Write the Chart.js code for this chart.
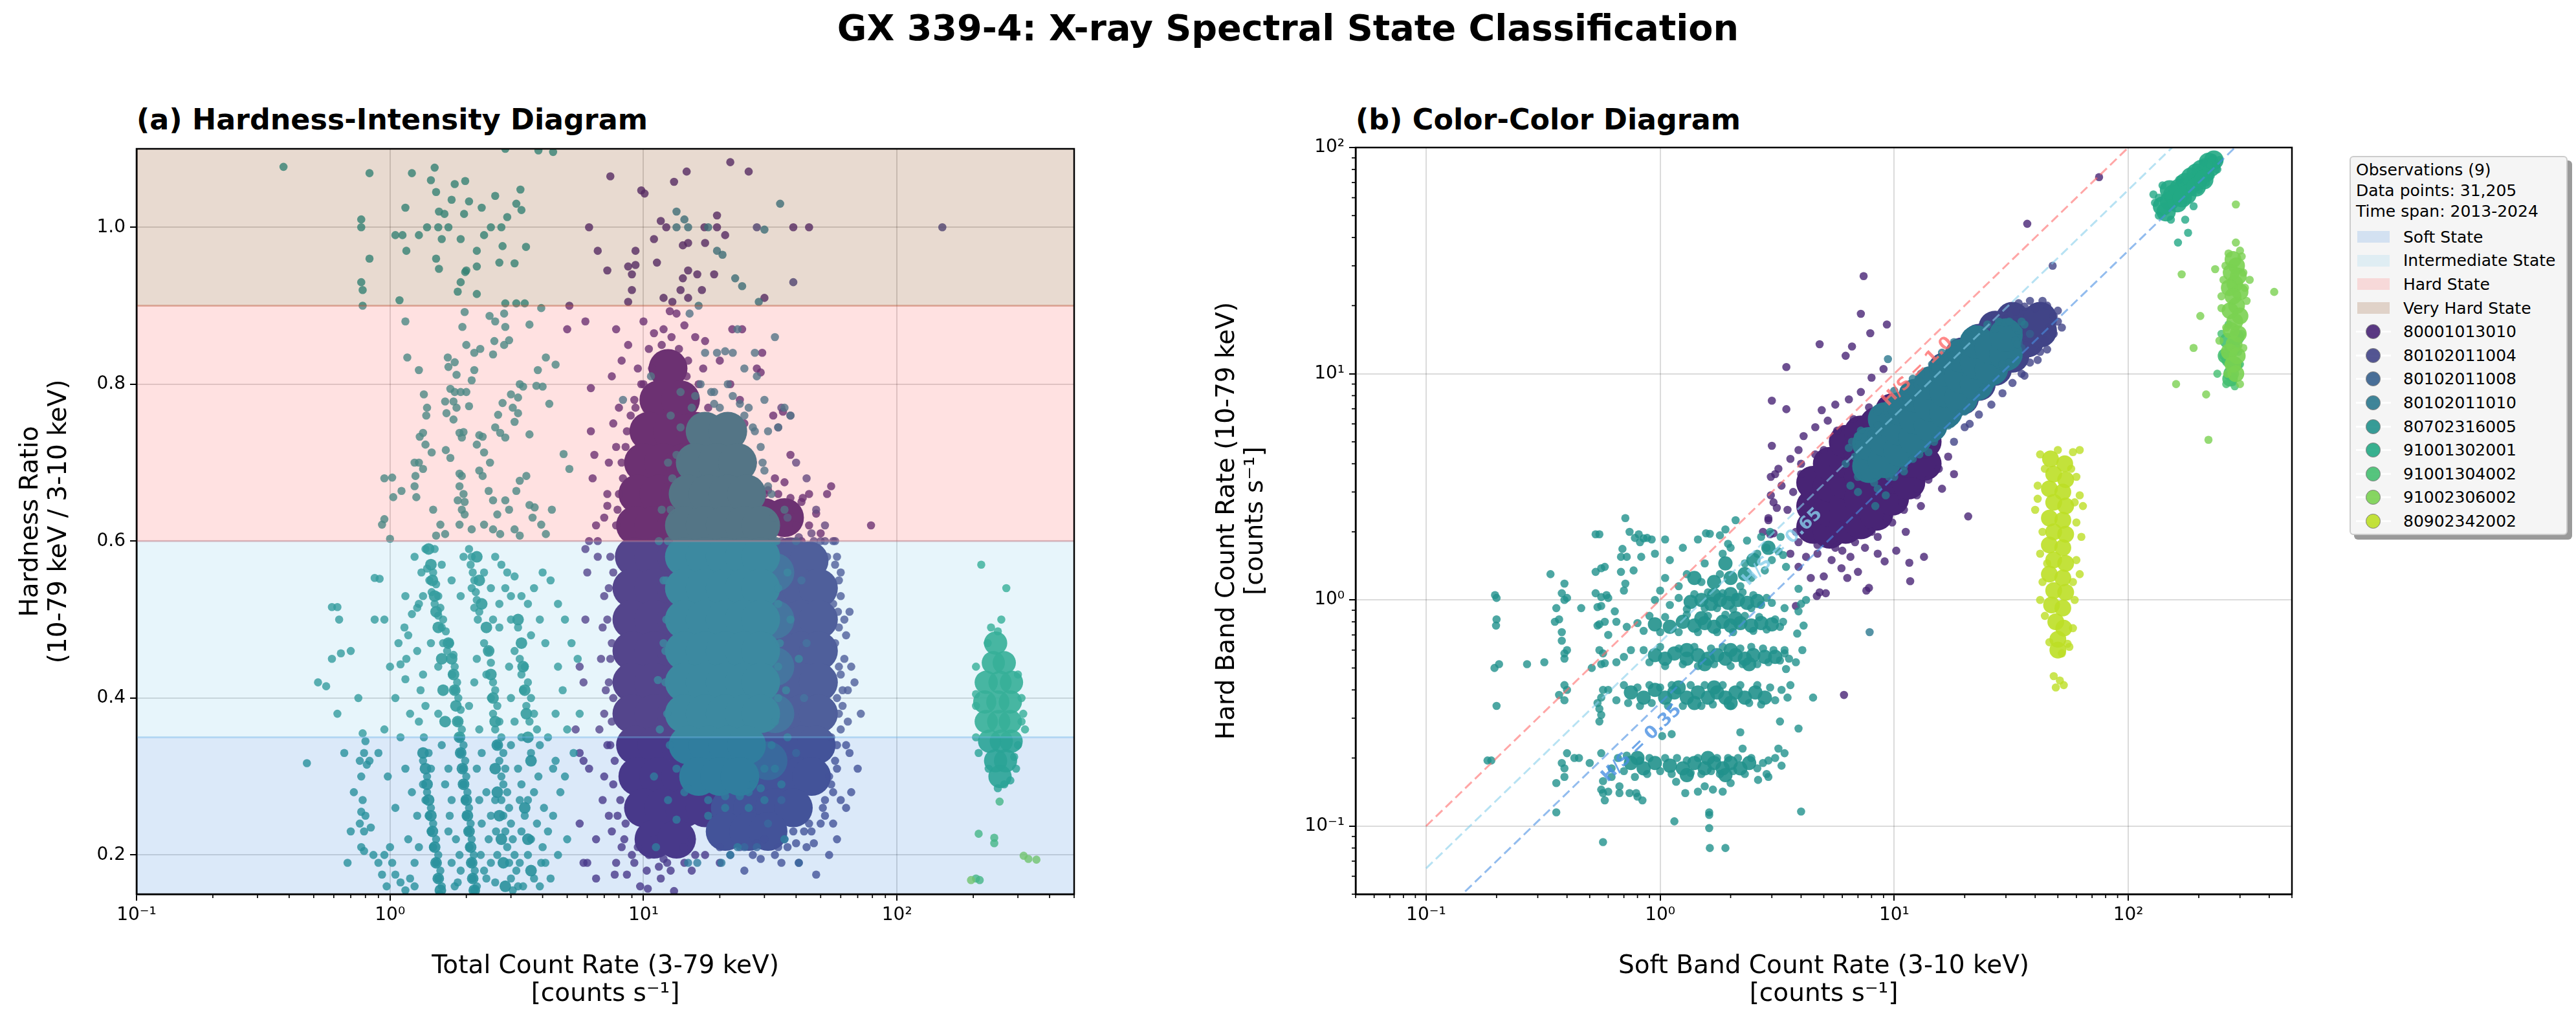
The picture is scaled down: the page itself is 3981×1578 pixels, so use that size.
<!DOCTYPE html>
<html>
<head>
<meta charset="utf-8">
<script src="https://cdn.jsdelivr.net/npm/chart.js@4.4.1/dist/chart.umd.min.js"></script>
<style>
  html, body { margin: 0; padding: 0; background: #fff; }
  body { width: 3981px; height: 1578px; position: relative; overflow: hidden; font-family: "DejaVu Sans", sans-serif; color: #000; }
  #suptitle { position: absolute; left: 0; top: 15px; width: 3981px; text-align: center; font-weight: bold; font-size: 55.6px; line-height: 55.6px; }
  .subtitle { position: absolute; top: 163px; font-weight: bold; font-size: 44.4px; line-height: 44.4px; white-space: nowrap; }
  canvas { position: absolute; }
  #legend { position: absolute; left: 3631px; top: 241px; width: 337px; height: 586px; box-sizing: border-box;
            background: #f5f5f5; border: 2px solid #cccccc; border-radius: 6px; box-shadow: 7px 7px 0 #9a9a9a;
            font-size: 25px; padding: 4px 0 0 8px; }
  .ltitle { line-height: 32px; height: 32px; white-space: nowrap; }
  .lrow { display: flex; align-items: center; height: 36.6px; white-space: nowrap; }
  .lhandle { position: relative; width: 54px; height: 30px; margin-right: 19px; }
  .lpatch { position: absolute; left: 2px; top: 6px; width: 50px; height: 18px; }
  .lline { position: absolute; left: 0; top: 13.5px; width: 54px; height: 3px; background: rgba(255,255,255,0.9); }
  .ldot { position: absolute; left: 15px; top: 3.5px; width: 23px; height: 23px; border-radius: 50%; box-sizing: border-box; border: 1.5px solid #808080; }
</style>
</head>
<body>
<div id="suptitle">GX 339-4: X-ray Spectral State Classification</div>
<div class="subtitle" style="left:211px">(a) Hardness-Intensity Diagram</div>
<div class="subtitle" style="left:2095px">(b) Color-Color Diagram</div>
<canvas id="hid" width="1700" height="1378" style="left:0px;top:200px;width:1700px;height:1378px"></canvas>
<canvas id="ccd" width="1840" height="1378" style="left:1760px;top:200px;width:1840px;height:1378px"></canvas>
<div id="legend"></div>
<script>
// observations
const obsIds = ['80001013010', '80102011004', '80102011008', '80102011010', '80702316005',
                '91001302001', '91001304002', '91002306002', '80902342002'];
const obsColors = ['#482475', '#414487', '#355f8d', '#2a788e', '#21918c', '#22a884', '#44bf70', '#7ad151', '#bddf26'];

// spectral states (hardness ratio bands)
const stateNames = ['Soft State', 'Intermediate State', 'Hard State', 'Very Hard State'];
const stateLo = [0.0, 0.35, 0.6, 0.9];
const stateHi = [0.35, 0.6, 0.9, 2.0];
const stateColors = ['#4a90e2', '#87ceeb', '#ff6b6b', '#8b4513'];

// reference H/S lines in colour-colour diagram
const ratioValues = [1.0, 0.65, 0.35];
const ratioLabels = ['H/S = 1.0', 'H/S = 0.65', 'H/S = 0.35'];
const ratioColors = ['#ff6b6b', '#87ceeb', '#4a90e2'];
const ratioLineX = [0.1, 1000];
const ratioLabelX = [12.6, 3.33, 0.834];
const ratioLabelY = [10.2, 1.71, 0.232];

const legendTitle = ['Observations (9)', 'Data points: 31,205', 'Time span: 2013-2024'];

// ticks
const hidXTicks = [0.1,0.2,0.3,0.4,0.5,0.6,0.7,0.8,0.9,1,2,3,4,5,6,7,8,9,10,20,30,40,50,60,70,80,90,100,200,300,400,500];
const hidYTicks = [0.2, 0.4, 0.6, 0.8, 1.0];
const ccdXTicks = [0.05,0.06,0.07,0.08,0.09,0.1,0.2,0.3,0.4,0.5,0.6,0.7,0.8,0.9,1,2,3,4,5,6,7,8,9,10,20,30,40,50,60,70,80,90,100,200,300,400,500];
const ccdYTicks = [0.05,0.06,0.07,0.08,0.09,0.1,0.2,0.3,0.4,0.5,0.6,0.7,0.8,0.9,1,2,3,4,5,6,7,8,9,10,20,30,40,50,60,70,80,90,100];

// ---------- Hardness-intensity diagram: [total rate, hardness ratio] ----------
const hidCore_80001013010 = [
  [12.5,0.82],[11.5,0.78],[14,0.78],[10.5,0.74],[13,0.74],[16,0.74],
  [10,0.70],[12,0.70],[14.5,0.70],[17.5,0.70],[9.5,0.66],[11.5,0.66],[14,0.66],[17,0.66],[20,0.66],
  [9.3,0.62],[11,0.62],[13.5,0.62],[16.5,0.62],[20,0.62],[24,0.62],[30,0.63],[36,0.63],
  [9.2,0.58],[11,0.58],[13.5,0.58],[16.5,0.58],[20,0.58],
  [9,0.54],[11,0.54],[13.5,0.54],[9,0.50],[11,0.50],[13.5,0.50],[9,0.46],[11,0.46],[13.5,0.46],
  [9,0.42],[11,0.42],[13.5,0.42],[9,0.38],[11,0.38],[13.5,0.38],
  [9.3,0.34],[11.3,0.34],[14,0.34],[9.5,0.30],[11.5,0.30],[14,0.30],[17,0.30],
  [10,0.26],[12,0.26],[14.5,0.26],[17.5,0.26],[11,0.22],[13.5,0.22]
];
const hid_80001013010 = [
  [7.4,1.065],[9.8,1.047],[10.1,1.043],[13.2,1.058],[14.8,1.071],[22,1.083],[26,1.071],[6.1,1.0],[11.7,1.008],
  [12.3,1.0],[17.4,1.0],[19.5,1.0],[19.5,1.015],[21,0.99],[39,1.0],[45,1.0],[11,0.985],[14.3,0.977],[15,0.98],
  [17.5,0.98],[6.6,0.97],[7.2,0.945],[8.7,0.95],[9,0.94],[9.3,0.952],[9.3,0.97],[11.3,0.955],[14.3,0.935],
  [15,0.945],[16.3,0.94],[19,0.94],[12,0.91],[13,0.905],[14,0.92],[12.7,0.893],[15,0.91],[17,0.92],[8.7,0.905],
  [9,0.92],[30,0.91],[5.1,0.9],[5.9,0.88],[5,0.87],
  [7.8,0.87],[8.7,0.85],[10,0.88],[11,0.865],[12,0.87],[14.5,0.875],[16,0.86],[17.5,0.855],[13.5,0.89],
  [6.2,0.795],[7.5,0.81],[8.2,0.83],[9.5,0.82],[6.2,0.74],[6.4,0.71],[7.3,0.70],[6.3,0.68],[7.2,0.66],
  [7.2,0.645],[7.0,0.63],[6.5,0.62],[6.1,0.60],[6.6,0.60],[5.9,0.59],[7.6,0.75],[8.0,0.77],[7.8,0.72],
  [22.4,0.87],[24.5,0.87],[29.4,0.84],[28,0.82],[29,0.815],[20,0.83],[22,0.8],[24,0.78],[25,0.75],
  [32.5,0.76],[35.5,0.765],[38,0.71],[33,0.68],[36,0.675],[42,0.65],[42.5,0.655],[45,0.66],[55,0.67],
  [53,0.66],[45,0.62],[79,0.62],[48,0.635],[38,0.64],[40,0.62],[30,0.66],[33,0.63],[27,0.70],[50,0.61],
  [10.5,0.845],[11.8,0.85],[13.8,0.845],[15,0.83],[9.8,0.8],[16.5,0.8],[8.9,0.76],[18,0.77],[19,0.73],
  [8.5,0.72],[8.3,0.68],[21,0.71],[23,0.68],[7.9,0.64],[26,0.66],[12.9,0.86],[9.2,0.78],[17.2,0.82],
  [7.4,0.58],[7.3,0.54],[7.2,0.5],[7.4,0.45],[7.3,0.42],[7.5,0.37],[7.4,0.34],[7.6,0.29],[7.9,0.25],
  [8.4,0.22],[9.2,0.19],[10.3,0.18],[11.5,0.185],[12.8,0.18],[14.5,0.19],[7.8,0.62],[8.0,0.66],[8.2,0.7],
  [8.6,0.74],[9.3,0.77],[10,0.8],[10.8,0.82],[14.8,0.81],[15.8,0.78],[17.2,0.75],[18.5,0.72],[20,0.7],
  [22,0.68],[24,0.66],[26,0.645],[28,0.655],[31,0.665],[34,0.66],[38,0.655],[40,0.64],[42,0.6],
  [6.0,0.56],[5.9,0.50],[5.6,0.44],[5.8,0.42],[5.4,0.36],[5.6,0.33],[5.8,0.32],[6.1,0.31],[5.6,0.24],
  [5.8,0.19],[6.0,0.19],[6.5,0.17],[6.5,0.22],[6.9,0.27],[7.8,0.19],[7.7,0.175],[8.6,0.175],[9.7,0.16],
  [10.4,0.157],[11.7,0.17],[13.2,0.154],[12.4,0.19],[14.4,0.21],[15.5,0.18],[17.5,0.2],[20,0.19],
  [6.8,0.45],[7,0.38],[7.0,0.53],[6.6,0.58],[7.2,0.34],[7.3,0.25],[8.2,0.21],[9,0.2],[10.5,0.2],[11,0.22],
  [6.9,0.49],[7.1,0.41],[6.7,0.36],[7.0,0.3],[7.5,0.23],[7.6,0.56],[7.5,0.47],[7.6,0.4],[7.7,0.32],[8.1,0.27],
  [8.5,0.24],[9.5,0.21],[12,0.195],[15.5,0.22],[16,0.2]
];
const hidCore_80102011004 = [
  [26,0.58],[31,0.58],[38,0.58],[45,0.575],
  [24,0.54],[29,0.54],[35,0.54],[42,0.54],[49,0.54],
  [24,0.50],[29,0.50],[35,0.50],[42,0.50],[49,0.50],
  [24,0.46],[29,0.46],[35,0.46],[42,0.46],[49,0.46],
  [24,0.42],[29,0.42],[35,0.42],[42,0.42],[49,0.42],
  [24,0.38],[29,0.38],[35,0.38],[42,0.38],[49,0.38],
  [24,0.34],[29,0.34],[35,0.34],[42,0.34],[48,0.34],
  [23,0.30],[28,0.30],[34,0.30],[41,0.30],[46,0.30],
  [22,0.26],[27,0.26],[33,0.26],[39,0.26],[21,0.23],[26,0.23],[31,0.23]
];
const hid_80102011004 = [
  [57,0.6],[58,0.58],[59,0.55],[60,0.53],[63,0.48],[62,0.45],[64,0.37],[63,0.34],[66,0.28],[63,0.26],
  [56,0.24],[60,0.27],[48,0.175],[41,0.19],[43,0.23],[51,0.26],[45,0.24],[52,0.27],[62,0.5],[61,0.41],
  [60,0.43],[61,0.39],[58,0.31],[55,0.29],[37,0.21],[33,0.2],[30,0.22],[27,0.2],[25,0.18],[22,0.2],
  [20,0.21],[151,1.0],[39,0.93],[28,1.0],[35,0.77],[38,0.76],[34,0.745],[40,0.7],[44,0.68],[48,0.64],
  [52,0.62],[50,0.6],[46,0.61],[58,0.22],[65,0.33],[64,0.41],[66,0.44],[54,0.2],[47,0.215],[39,0.23],
  [70,0.31],[72,0.38],[68,0.42],[65,0.51],[60,0.56],[56,0.6],[53,0.58],[59,0.49],[60,0.36],[57,0.32],
  [55,0.35],[58,0.4],[57,0.47],[56,0.52],[54,0.3],[50,0.24],[44,0.21],[35,0.19],[29,0.195],
  [57,0.57],[58.5,0.51],[59,0.44],[59,0.38],[58,0.34],[56,0.28],[52,0.25],[46,0.23],[40,0.215],[34,0.21],
  [28,0.215],[24,0.21],[52,0.6],[47,0.6],[41,0.605],[35,0.6]
];
const hidCore_80102011008 = [
  [33,0.56],[33,0.50],[33,0.44],[33,0.38],[31,0.32]
];
const hid_80102011008 = [
  [36,0.22],[41,0.19],[28,0.21],[40,0.6],[42,0.55],[44,0.47],[43,0.40],[40,0.33],[35,0.27],[30,0.62],
  [37,0.63],[25,0.21],[31,0.24]
];
const hidCore_80102011010 = [
  [17.5,0.74],[21.5,0.74],[16,0.70],[19.5,0.70],[23.5,0.70],
  [15,0.66],[18,0.66],[21.5,0.66],[25.5,0.66],
  [14.5,0.62],[17.5,0.62],[21,0.62],[25,0.62],[29,0.62],
  [14.5,0.58],[17.5,0.58],[21,0.58],[25,0.58],[29,0.58],
  [14.5,0.54],[17.5,0.54],[21,0.54],[25,0.54],[29,0.54],
  [14.5,0.50],[17.5,0.50],[21,0.50],[25,0.50],[29,0.50],
  [14.5,0.46],[17.5,0.46],[21,0.46],[25,0.46],[29,0.46],
  [14.5,0.42],[17.5,0.42],[21,0.42],[25,0.42],[29,0.42],
  [14.5,0.38],[17.5,0.38],[21,0.38],[25,0.38],[29,0.38],
  [15,0.34],[18,0.34],[21.5,0.34],[25.5,0.34],[16.5,0.30],[20,0.30],[24,0.30]
];
const hid_80102011010 = [
  [13.5,1.02],[14.5,1.01],[13.5,1.0],[15,1.0],[18,1.0],[19.5,0.97],[20.5,0.965],[23,0.935],[24.5,0.925],
  [34.6,1.03],[30,0.997],[28.5,0.905],[16.5,0.9],[15.2,0.89],[17.5,0.84],[19.5,0.84],[21,0.842],[22.5,0.84],
  [27.5,0.84],[33,0.86],[23.5,0.87],[10.7,0.81],[8.3,0.78],[16.8,0.80],[25,0.82],[28,0.81],[34,0.745],
  [36,0.77],[38,0.76],[14,0.79],[19,0.79],[21.5,0.8],[30,0.78],[31,0.74],[12.8,0.76],[11.4,0.423],
  [12.2,0.46],[12,0.47],[11.6,0.36],[11,0.30],[11.2,0.21],[15,0.19],[16.3,0.19],[20.3,0.19],[22,0.20],
  [23.5,0.21],[35,0.29],[36.5,0.41],[41,0.45],[36,0.22],[12,0.55],[11.5,0.6],[12.5,0.27],[13.5,0.245],
  [18,0.25],[21,0.26],[26,0.26],[30,0.27],[33,0.31],[37,0.35],[38,0.5],[37,0.56],[36,0.64],[11.8,0.64],
  [12.5,0.7],[15.5,0.77],[26,0.77],[29,0.72],[24,0.775],[19,0.775],[27,0.745],[30,0.69],[32,0.66],
  [13.5,0.71],[14,0.745],[33,0.6],[34,0.52],[34,0.44],[33,0.37],[29,0.285],[26,0.28],[14.5,0.28],
  [16,0.785],[18.5,0.79],[20,0.77],[22.5,0.785],[25,0.76],[27.5,0.74],[29.5,0.7],[31,0.67],[13,0.68],
  [12.8,0.64],[12.5,0.6],[12.3,0.55],[12.3,0.5],[12.2,0.42],[12.4,0.38],[12.7,0.34],[13.5,0.31],[15,0.285],
  [18,0.27],[21,0.275],[24,0.275],[27,0.29],[30,0.31],[32,0.34],[34,0.4],[34.5,0.47],[34,0.54],[33.5,0.6],
  [32.5,0.63]
];
const hidCore_80702316005 = [
  [1.42,0.59],[1.45,0.57],[1.47,0.55],[1.5,0.53],[1.52,0.51],[1.55,0.49],
  [1.7,0.47],[1.75,0.45],[1.78,0.43],[1.8,0.41],[1.82,0.39],[1.85,0.37],[1.88,0.35],[1.9,0.33],[1.93,0.31],
  [1.95,0.29],[2.0,0.27],[2.02,0.25],[2.05,0.23],[2.08,0.21],[2.1,0.19],[2.12,0.17],[2.15,0.155],
  [1.35,0.33],[1.38,0.31],[1.4,0.29],[1.42,0.27],[1.45,0.25],[1.47,0.23],[1.5,0.21],[1.52,0.19],[1.55,0.17],[1.58,0.155],
  [2.2,0.58],[2.25,0.55],[2.3,0.52],[2.4,0.49],[2.45,0.46],[2.5,0.43],[2.55,0.40],[2.6,0.37],[2.65,0.34],
  [2.6,0.31],[2.65,0.28],[2.7,0.25],[2.75,0.22],[2.8,0.19],[2.85,0.16],
  [3.2,0.50],[3.3,0.47],[3.35,0.44],[3.4,0.41],[3.45,0.38],[3.5,0.35],[3.6,0.32],[3.4,0.26],[3.5,0.22],[3.6,0.18],
  [1.6,0.45],[1.62,0.41],[1.65,0.37]
];
const hid_80702316005 = [
  // very hard
  [0.38,1.077],[0.83,1.069],[1.22,1.069],[1.5,1.076],[2.85,1.10],[3.85,1.098],[4.4,1.096],[0.77,1.01],[0.77,1.0],
  [0.83,0.96],[0.77,0.93],[0.78,0.92],[0.78,0.90],[1.15,1.025],[1.12,0.99],[1.16,0.97],[1.09,0.907],[1.52,1.045],
  [1.56,1.02],[1.55,1.0],[1.6,0.985],[1.52,0.96],[1.56,0.947],[1.64,1.017],[1.75,1.035],[1.98,1.059],[1.96,1.017],
  [1.9,0.985],[1.98,0.943],[1.85,0.918],[2.2,0.97],[2.2,0.95],[2.2,0.915],[2.3,1.025],[2.05,1.033],[2.35,0.99],
  [2.75,1.0],[2.78,0.976],[2.7,0.955],[2.9,1.013],[3.27,1.048],[3.3,1.022],[3.15,1.03],[3.1,0.954],[3.44,0.975],
  [2.85,0.903],[3.15,0.903],[3.4,0.903],[2.0,0.945],[1.9,0.93],[1.05,0.99],[1.3,0.99],[1.4,1.0],[2.5,1.0],
  [1.7,1.0],[1.8,1.055],[1.45,1.06],[2.6,1.04],
  // hard
  [1.97,0.892],[1.93,0.873],[2.0,0.85],[2.15,0.84],[2.27,0.845],[2.47,0.887],[2.6,0.88],[2.82,0.89],[2.85,0.873],
  [2.95,0.856],[2.58,0.855],[2.55,0.838],[2.82,0.85],[3.55,0.876],[3.95,0.897],[4.12,0.834],[3.83,0.818],
  [3.78,0.798],[4.0,0.797],[4.5,0.825],[4.25,0.775],[3.35,0.797],[3.2,0.783],[3.25,0.80],[3.0,0.787],[3.05,0.77],
  [2.78,0.776],[2.67,0.761],[2.6,0.745],[2.72,0.738],[2.85,0.732],[3.1,0.752],[3.2,0.763],[3.55,0.736],
  [1.69,0.834],[1.8,0.828],[1.7,0.822],[1.83,0.812],[1.73,0.794],[1.8,0.79],[1.9,0.79],[1.78,0.778],[1.65,0.778],
  [1.67,0.763],[1.83,0.77],[1.78,0.755],[2.0,0.79],[2.1,0.805],[2.15,0.818],[2.05,0.772],[1.95,0.739],[1.92,0.732],
  [1.36,0.787],[1.4,0.77],[1.39,0.76],[1.35,0.738],[1.31,0.733],[1.38,0.723],[1.46,0.713],[1.30,0.70],[1.25,0.70],
  [1.35,0.692],[1.26,0.683],[1.25,0.67],[1.27,0.656],[1.66,0.716],[1.73,0.706],[1.88,0.738],[2.25,0.735],
  [2.32,0.733],[2.2,0.723],[2.35,0.713],[2.48,0.70],[2.25,0.69],[2.32,0.683],[1.88,0.686],[1.92,0.683],
  [1.88,0.67],[1.95,0.66],[1.85,0.652],[1.92,0.64],[1.97,0.65],[1.88,0.621],[1.97,0.634],[2.1,0.615],
  [2.45,0.664],[2.55,0.652],[2.65,0.634],[2.85,0.652],[2.95,0.64],[3.15,0.664],[3.25,0.677],[3.45,0.683],
  [3.55,0.646],[3.72,0.643],[3.65,0.63],[3.95,0.621],[3.1,0.615],[2.72,0.609],[2.55,0.615],[2.35,0.621],
  [3.25,0.607],[4.12,0.609],[4.35,0.64],[5.1,0.692],[4.84,0.711],[1.48,0.64],[1.58,0.621],[1.65,0.609],
  [1.52,0.607],[0.95,0.68],[1.02,0.681],[1.03,0.656],[1.11,0.664],[0.95,0.628],[0.93,0.621],[1.0,0.603],
  [1.15,0.88],[1.17,0.834],[1.30,0.818],
  // intermediate / soft
  [1.38,0.59],[1.5,0.59],[1.4,0.565],[1.48,0.56],[1.43,0.55],[1.52,0.545],[1.46,0.535],[1.55,0.53],[1.5,0.52],
  [1.58,0.515],[1.55,0.505],[1.62,0.5],[1.6,0.49],[1.66,0.485],[1.7,0.47],[1.68,0.46],[1.35,0.53],[1.3,0.52],
  [1.28,0.515],[2.05,0.59],[2.1,0.58],[2.08,0.57],[2.12,0.56],[2.15,0.55],[2.1,0.54],[2.18,0.535],[2.2,0.525],
  [2.15,0.515],[2.25,0.51],[2.22,0.5],[2.6,0.58],[2.75,0.57],[2.9,0.56],[3.1,0.555],[2.85,0.54],[3.0,0.53],
  [3.3,0.53],[3.5,0.52],[3.7,0.54],[4.0,0.56],[4.3,0.55],[4.6,0.52],[4.9,0.5],[3.9,0.5],[2.55,0.5],[2.7,0.49],
  [3.2,0.49],[3.6,0.48],[4.1,0.47],[5.2,0.47],[5.5,0.45],
  [0.59,0.516],[0.62,0.516],[0.63,0.50],[0.59,0.45],[0.64,0.457],[0.52,0.42],[0.56,0.415],[0.87,0.553],
  [0.91,0.552],[0.87,0.50],[0.95,0.50],[0.47,0.317],[1.15,0.53],[1.0,0.44],[1.1,0.443],[1.15,0.424],
  [1.16,0.45],[1.08,0.47],[1.14,0.49],[1.22,0.507],[1.18,0.48],
  [1.72,0.47],[1.78,0.455],[1.8,0.44],[1.76,0.43],[1.84,0.42],[1.8,0.41],[1.86,0.40],[1.9,0.385],[1.85,0.37],
  [1.92,0.36],[1.88,0.35],[1.95,0.34],[1.9,0.33],[1.98,0.32],[1.94,0.31],[2.0,0.30],
  [2.35,0.47],[2.45,0.46],[2.5,0.445],[2.4,0.43],[2.55,0.42],[2.6,0.41],[2.5,0.40],[2.65,0.39],[2.55,0.38],
  [2.7,0.37],[2.6,0.36],[2.75,0.35],[2.65,0.34],[2.8,0.33],[2.7,0.32],[2.85,0.31],[2.75,0.30],
  [3.1,0.46],[3.25,0.45],[3.4,0.44],[3.3,0.43],[3.5,0.42],[3.35,0.41],[3.6,0.40],[3.45,0.39],[3.7,0.38],
  [3.55,0.37],[3.8,0.36],[3.3,0.35],[3.9,0.34],[3.6,0.33],[4.2,0.35],[4.5,0.38],[4.8,0.41],[5.0,0.36],[4.4,0.31],
  [1.35,0.43],[1.32,0.41],[1.38,0.39],[1.3,0.37],[1.36,0.35],[1.42,0.33],[1.35,0.32],[1.45,0.31],[1.4,0.30],
  [1.2,0.38],[1.1,0.35],[1.05,0.40],[0.78,0.355],[0.8,0.345],[0.79,0.33],[0.76,0.32],[0.81,0.315],[0.83,0.32],
  [0.9,0.33],[0.77,0.30],
  [0.78,0.27],[0.77,0.255],[0.8,0.25],[0.76,0.24],[0.79,0.23],[0.84,0.235],[0.77,0.21],[0.79,0.205],[0.86,0.2],
  [0.9,0.19],[0.95,0.2],[1.0,0.21],[1.02,0.19],[0.93,0.175],[0.97,0.16],[1.05,0.175],[1.1,0.165],[1.15,0.155],
  [1.2,0.17],[1.25,0.16],
  [1.35,0.29],[1.4,0.28],[1.38,0.27],[1.45,0.26],[1.42,0.25],[1.48,0.24],[1.45,0.23],[1.52,0.22],[1.48,0.21],
  [1.55,0.2],[1.52,0.19],[1.58,0.18],[1.55,0.17],[1.6,0.16],[1.57,0.15],
  [1.95,0.29],[2.02,0.28],[1.98,0.27],[2.05,0.26],[2.0,0.25],[2.08,0.24],[2.04,0.23],[2.1,0.22],[2.06,0.21],
  [2.14,0.20],[2.1,0.19],[2.16,0.18],[2.12,0.17],[2.2,0.16],[2.15,0.155],
  [2.8,0.29],[2.9,0.28],[2.75,0.27],[2.95,0.26],[2.8,0.25],[3.0,0.24],[2.85,0.23],[3.05,0.22],[2.9,0.21],
  [3.1,0.2],[2.95,0.19],[3.15,0.18],[3.0,0.17],[3.2,0.16],[3.05,0.155],
  [3.3,0.29],[3.5,0.27],[3.7,0.28],[3.4,0.25],[3.8,0.24],[3.6,0.22],[4.0,0.21],[3.5,0.2],[4.1,0.19],[3.7,0.17],
  [4.3,0.17],[3.9,0.16],[4.6,0.2],[4.4,0.25],[5.0,0.22],[4.7,0.28],
  [2.4,0.28],[2.5,0.25],[2.45,0.22],[2.5,0.19],[2.4,0.17],[1.75,0.27],[1.7,0.23],[1.75,0.19],[1.8,0.16],
  [1.25,0.58],[1.33,0.56],[1.6,0.57],[1.75,0.55],[1.9,0.53],[2.35,0.56],[2.5,0.54],[1.95,0.58],[2.7,0.52],
  [3.0,0.5],[1.28,0.46],[1.45,0.47],[1.55,0.44],[1.62,0.47],[2.2,0.45],[2.15,0.42],[2.05,0.39],[2.25,0.36],
  [2.3,0.33],[2.2,0.31],[2.95,0.44],[3.0,0.4],[3.1,0.37],[3.0,0.34],[3.2,0.31],[1.55,0.38],[1.6,0.34],
  [1.7,0.31],[1.65,0.29],[1.15,0.31],[1.22,0.28],[1.28,0.25],[1.18,0.22],[1.3,0.21],[1.25,0.19],[1.72,0.25],
  [1.82,0.22],[1.88,0.2],[1.9,0.18],[1.85,0.165],[2.25,0.27],[2.3,0.24],[2.28,0.2],[2.35,0.18],[2.6,0.27],
  [2.62,0.23],[2.65,0.2],[2.6,0.165],[3.25,0.27],[3.3,0.23],[3.25,0.19],[3.35,0.16],[3.85,0.3],[4.05,0.26],
  [4.2,0.23],[3.95,0.19],[4.5,0.32],[4.9,0.3],[5.3,0.33],[5.6,0.38],[4.6,0.44],[1.05,0.26],[0.98,0.3],
  [0.95,0.36],[0.7,0.23],[0.68,0.19],[0.72,0.28],[0.66,0.33],[0.62,0.38],[0.7,0.46],[0.75,0.4]
];
const hidCore_91001302001 = [
  [245,0.47],[240,0.445],[265,0.445],[225,0.42],[255,0.42],[283,0.42],[222,0.395],[250,0.395],[280,0.395],
  [225,0.37],[252,0.37],[280,0.37],[232,0.345],[258,0.345],[282,0.345],[245,0.32],[268,0.32],[255,0.30]
];
const hid_91001302001 = [
  [215,0.57],[270,0.54],[235,0.49],[250,0.485],[205,0.44],[300,0.43],[310,0.40],[205,0.39],[315,0.38],
  [320,0.36],[205,0.35],[300,0.34],[210,0.33],[295,0.31],[230,0.31],[265,0.29],[280,0.295],[250,0.285],
  [290,0.325],[205,0.405],[310,0.37],[258,0.5],[228,0.47]
];
const hidCore_91001304002 = [];
const hid_91001304002 = [[254,0.268],[210,0.227],[242,0.222],[242,0.215],[205,0.17],[212,0.168]];
const hidCore_91002306002 = [];
const hid_91002306002 = [[316,0.199],[330,0.195],[355,0.194],[196,0.168]];
const hidCore_80902342002 = [];
const hid_80902342002 = [];

// ---------- Colour-colour diagram: [soft rate, hard rate] ----------
const ccdCore_80001013010 = [
  [4.5,2.1],[4.5,2.6],[4.5,3.3],[5.3,2.0],[5.3,2.5],[5.3,3.2],[5.3,4.0],
  [6.2,2.1],[6.2,2.6],[6.2,3.3],[6.2,4.1],[6.2,5.0],[7.2,2.2],[7.2,2.8],[7.2,3.5],[7.2,4.4],[7.2,5.5],
  [8.4,2.4],[8.4,3.0],[8.4,3.8],[8.4,4.8],[8.4,6.0],[9.8,2.8],[9.8,3.5],[9.8,4.4],[9.8,5.5],[9.8,6.9],
  [11.5,3.3],[11.5,4.1],[11.5,5.2],[11.5,6.5],[13.5,4.0],[13.5,5.0],[13.5,6.3],[13.5,7.9]
];
const ccd_80001013010 = [
  [7.4,27],[9.3,16.5],[7.2,18.4],[3.46,10.7],[3.0,7.6],[3.46,6.97],[3.0,4.8],[4.8,13.5],[6.6,13.2],[6.2,12],
  [7.9,15.1],[11.6,1.46],[20.7,2.34],[37,46],[75,74],[4.9,6.9],
  [2.97,3.5],[3.1,3.6],[3.2,3.8],[2.97,2.9],[3.05,2.7],[3.15,2.55],[2.9,2.3],[2.9,2.25],[2.75,2.0],[2.95,1.95],
  [3.05,1.97],[3.8,0.94],[4.67,1.04],[4.8,1.08],[5.1,1.07],[7.6,1.1],[7.8,1.13],[6.1,0.38],[11.7,1.21],
  [13.4,1.55],[11.2,2.0],[4.4,1.25],[5.0,1.27],[5.95,1.38],[6.3,1.25],[7.0,1.33],[9.1,1.48],[10.2,1.65],
  [3.6,1.6],[3.9,1.4],[4.2,1.55],[3.8,2.0],[3.5,2.5],[3.3,3.2],[3.6,4.2],[3.9,4.6],[4.1,5.3],[4.6,5.8],
  [5.2,6.2],[5.6,7.3],[6.4,7.7],[7.2,8.3],[8,9.6],[9,10.5],[5.4,1.5],[6.5,1.55],[7.5,1.7],[8.5,1.9],
  [9.8,2.2],[11,2.5],[12.5,2.9],[14,3.4],[15.5,3.8],[17,4.3],[13,2.6],[16,3.1],[18,3.6],[4.0,4.0],[4.6,4.4],
  [3.7,3.0],[8.5,1.6],[6,1.65],[4.7,1.6],[3.9,1.8],[4.2,2.9],[4.0,3.6],[5.0,4.6],[5.7,5.6],[6.7,6.3],
  [7.8,7.1],[4.7,1.75],[5.6,1.7],[6.8,1.8],[8.0,2.0],[9.3,2.3],[10.8,2.7],[12.5,3.1]
];
const ccdCore_80102011004 = [
  [14,6.0],[14,7.5],[16.5,6.8],[16.5,8.5],[16.5,10.5],[19.5,7.8],[19.5,9.8],[19.5,12.2],
  [23,9.0],[23,11.3],[23,14],[27,10.5],[27,13],[27,16],[32,12],[32,15],[32,17.5],
  [37,14],[37,16.5],[42,15.5],[42,17.5]
];
const ccd_80102011004 = [
  [45,20],[48,18],[46,16],[44,14],[42,12.5],[38,11.2],[35,10],[32,9.1],[29,8.2],[26,7.3],[23,6.6],[20,5.8],
  [40,19.5],[36,19.8],[33,18.8],[30,17.5],[28,16.5],[25,15],[47.5,30],[50,17],[43,21],[38,21],[34,20.5],
  [48,15],[50,19],[45,12.8],[41,11.5],[36,9.8],[52,16],[30,19.5],[27,18],[24,16],[22,14.5],[18,5.0],
  [21,6.0],[17,10.5],[15,8.5]
];
const ccdCore_80102011008 = [
  [12,6],[14,6.8],[16.5,8],[19.5,9.2],[23,10.6],[27,12.2],[13,7.8],[16,9.4],[20,11.2],[24,13],[30,13.5]
];
const ccd_80102011008 = [
  [11,7.5],[15,10],[19,13],[24,15],[28,17],[33,16],[30,12],[25,10],[20,8],[16,6],[12,4.6],[35,13],[38,15],
  [9.5,5],[10.5,7.8]
];
const ccdCore_80102011010 = [
  [7.8,3.9],[7.8,4.9],[9.1,4.1],[9.1,5.1],[9.1,6.3],[10.6,4.6],[10.6,5.7],[10.6,7.0],
  [12.3,5.2],[12.3,6.4],[12.3,8.0],[14.3,5.9],[14.3,7.3],[14.3,9.1],[16.6,6.8],[16.6,8.4],[16.6,10.4],
  [19.3,7.8],[19.3,9.7],[19.3,12],[22.5,9.0],[22.5,11.2],[22.5,13.8],[26,10.5],[26,13],[30,12.2],[30,14.8]
];
const ccd_80102011010 = [
  [7,4.3],[6.6,5.0],[7.2,5.6],[8,5.4],[8.5,6.8],[9.5,7.2],[10,8.4],[11,8.5],[12,9.5],[13,10],[14.5,11],
  [16,12.4],[18,13.8],[20,14.5],[22,15.8],[25,16.5],[28,17],[30,16.8],[34,15.5],[33,14],[29,11],[24,8.5],
  [19,6.7],[15,5.2],[12,4.2],[10,3.5],[8.5,3.1],[7,3.0],[6.5,3.2],[7.85,0.72],[9.4,11.6],[6.2,4.0],[6.4,4.7],
  [35,17],[36,16.5],[26,9],[21,7.5],[17.5,6],[14,4.5],[11,3.7],[9.2,2.9],[8.3,2.6],
  [8.5,5.9],[9.8,6.8],[11.3,7.8],[13,9.2],[15,10.6],[17.5,12],[20,13.5],[23.5,15.2],[27,15.8],[31,17],
  [33,16],[33.5,13.5],[31,11.2],[27,9.4],[23,8],[20,6.8],[17,5.9],[14.8,5.0],[12.8,4.4],[11,3.9],[9.5,3.5],
  [8.2,3.3],[7,3.5],[6.8,4.3],[7.0,5.3]
];
const ccdCore_80702316005 = [
  [0.75,0.19],[0.85,0.18],[0.95,0.19],[1.1,0.185],[1.25,0.18],[1.4,0.19],[1.55,0.18],[1.7,0.19],[1.85,0.18],
  [2.0,0.19],[2.2,0.18],[2.4,0.19],[0.8,0.2],[1.6,0.2],[1.3,0.168],[1.9,0.168],
  [0.75,0.39],[0.85,0.37],[0.95,0.40],[1.05,0.37],[1.15,0.39],[1.3,0.37],[1.45,0.39],[1.6,0.37],[1.75,0.39],
  [1.9,0.37],[2.1,0.39],[2.3,0.37],[2.55,0.39],[2.8,0.37],[1.2,0.41],[1.7,0.41],[1.4,0.35],[2.0,0.35],
  [0.95,0.57],[1.05,0.55],[1.15,0.58],[1.3,0.55],[1.45,0.57],[1.6,0.55],[1.75,0.57],[1.9,0.55],[2.1,0.57],
  [2.3,0.55],[2.5,0.57],[2.8,0.56],[3.1,0.56],[1.3,0.6],[2.0,0.6],[1.55,0.52],[2.4,0.52],
  [0.95,0.78],[1.1,0.76],[1.25,0.8],[1.4,0.77],[1.55,0.79],[1.7,0.76],[1.85,0.8],[2.0,0.77],[2.2,0.79],
  [2.45,0.77],[2.7,0.79],[3.0,0.78],[1.5,0.83],[2.1,0.83],
  [1.35,0.98],[1.5,1.0],[1.65,0.96],[1.8,1.0],[1.95,0.97],[2.15,1.0],[2.35,0.97],[2.6,0.99],[1.7,1.05],[2.0,1.06],
  [1.4,1.25],[1.7,1.2],[2.0,1.25],[2.3,1.3],[1.9,1.45],[2.5,1.5],[2.9,1.7]
];
const ccd_80702316005 = [
  [0.197,1.05],[0.2,1.02],[0.2,0.82],[0.199,0.77],[0.196,0.5],[0.205,0.52],[0.2,0.34],[0.19,0.195],[0.183,0.195],
  [0.27,0.52],[0.32,0.53],[0.34,1.3],[0.39,1.18],[0.38,1.07],[0.39,1.0],[0.4,1.02],[0.36,0.92],[0.355,0.8],
  [0.37,0.82],[0.38,0.72],[0.38,0.66],[0.4,0.6],[0.39,0.58],[0.39,0.55],[0.39,0.42],[0.4,0.4],[0.37,0.38],
  [0.39,0.36],[0.36,0.155],[0.38,0.19],[0.4,0.21],[0.43,0.2],[0.39,0.18],[0.39,0.165],[0.36,0.115],[0.46,0.92],
  [0.53,1.95],[0.55,1.95],[0.53,1.33],[0.56,1.38],[0.58,1.4],[0.53,1.07],[0.56,1.03],[0.54,0.93],[0.56,0.94],
  [0.59,1.05],[0.6,1.02],[0.54,0.77],[0.55,0.78],[0.58,0.8],[0.6,0.7],[0.55,0.6],[0.57,0.58],[0.56,0.52],
  [0.58,0.525],[0.51,0.5],[0.57,0.4],[0.56,0.37],[0.54,0.35],[0.55,0.33],[0.56,0.31],[0.55,0.29],[0.57,0.158],
  [0.56,0.145],[0.57,0.14],[0.58,0.13],[0.6,0.142],[0.57,0.085],[0.62,0.165],[0.67,0.15],[0.67,0.14],
  [0.74,0.14],[0.79,0.14],[0.84,0.13],[0.8,0.135],[0.71,2.3],[0.74,2.0],[0.78,1.88],[0.81,1.95],[0.82,1.8],
  [0.85,1.87],[0.88,1.88],[0.92,1.85],[0.69,1.68],[0.68,1.55],[0.72,1.55],[0.77,1.35],[0.83,1.55],[0.68,1.33],
  [0.71,1.18],[0.7,1.1],[0.64,0.89],[1.57,1.97],[1.63,1.96],[1.8,1.93],[1.9,2.05],[2.1,2.25],[1.95,1.77],
  [2.35,1.83],[2.95,2.0],[2.7,1.9],[3.27,1.9],[2.85,1.7],[3.2,1.64],[3.35,1.58],[3.45,1.4],[3.9,1.12],[4.0,0.96],
  [4.2,1.0],[3.9,0.89],[3.4,0.92],[4.1,0.77],[3.85,0.71],[4.05,0.6],[3.8,0.53],[3.4,0.6],[3.45,0.495],[4.5,0.37],
  [3.9,0.27],[3.25,0.29],[3.2,0.22],[3.4,0.21],[2.9,0.195],[2.9,0.165],[2.62,0.16],[4.0,0.116],[2.2,0.26],
  [2.0,0.155],[1.85,0.142],[1.68,0.145],[1.55,0.15],[1.45,0.142],[1.28,0.14],[1.17,0.157],[1.62,0.115],
  [1.62,0.112],[1.62,0.098],[1.63,0.08],[1.9,0.08],[1.15,0.105],[1.02,0.25],[1.12,0.255],[2.25,0.22],
  [0.62,0.18],[0.66,0.2],[0.7,0.175],[0.72,0.205],[0.78,0.165],[0.82,0.195],[0.88,0.17],[0.9,0.2],[1.0,0.175],
  [1.05,0.2],[1.12,0.17],[1.18,0.2],[1.3,0.195],[1.35,0.172],[1.45,0.2],[1.5,0.17],[1.65,0.175],[1.75,0.2],
  [1.8,0.17],[1.95,0.2],[2.05,0.175],[2.15,0.2],[2.3,0.17],[2.45,0.2],[2.6,0.18],[2.75,0.19],[2.85,0.17],
  [3.1,0.2],[3.3,0.185],[0.5,0.19],[0.45,0.2],[0.56,0.21],
  [0.6,0.4],[0.65,0.36],[0.7,0.42],[0.73,0.35],[0.8,0.41],[0.82,0.34],[0.9,0.42],[0.92,0.35],[1.0,0.41],
  [1.08,0.34],[1.12,0.42],[1.25,0.34],[1.35,0.42],[1.5,0.34],[1.55,0.42],[1.68,0.345],[1.85,0.42],[2.0,0.34],
  [2.2,0.42],[2.4,0.35],[2.6,0.42],[2.7,0.345],[2.95,0.41],[3.1,0.36],[3.3,0.4],[3.5,0.37],[3.6,0.42],
  [0.85,0.6],[0.9,0.53],[1.0,0.62],[1.05,0.51],[1.2,0.61],[1.25,0.52],[1.4,0.62],[1.45,0.51],[1.65,0.61],
  [1.7,0.52],[1.85,0.62],[2.0,0.51],[2.2,0.61],[2.25,0.52],[2.45,0.62],[2.6,0.52],[2.75,0.61],[2.9,0.53],
  [3.05,0.6],[3.25,0.54],[3.4,0.58],[3.55,0.55],[0.7,0.56],[0.75,0.6],[0.65,0.53],
  [0.8,0.79],[0.85,0.73],[0.9,0.85],[1.0,0.72],[1.05,0.84],[1.2,0.72],[1.3,0.86],[1.45,0.72],[1.6,0.85],
  [1.75,0.72],[1.9,0.86],[2.05,0.72],[2.3,0.85],[2.5,0.73],[2.65,0.84],[2.85,0.74],[3.1,0.82],[3.25,0.76],
  [3.35,0.8],[0.72,0.76],[0.65,0.8],
  [1.1,0.95],[1.2,1.02],[1.3,0.91],[1.4,1.06],[1.55,0.92],[1.6,1.08],[1.75,0.92],[1.85,1.07],[2.05,0.91],
  [2.1,1.03],[2.25,1.08],[2.45,0.92],[2.5,1.05],[2.7,0.95],[2.85,1.02],[3.0,0.97],[0.95,1.0],[1.0,1.1],
  [1.2,1.15],[1.3,1.3],[1.5,1.2],[1.55,1.45],[1.8,1.3],[1.85,1.6],[2.2,1.15],[2.3,1.45],[2.45,1.25],[2.6,1.6],
  [2.8,1.35],[3.0,1.5],[1.05,1.25],[1.1,1.5],[0.95,1.6],[1.25,1.7],[1.45,1.85],[1.05,1.85],[2.0,1.7]
];
const ccdCore_91001302001 = [
  [140,55],[150,58],[160,61],[170,64],[180,67],[190,70],[200,73],[212,77],[225,82],[155,62],[165,66],
  [175,70],[185,74],[195,77],[205,80],[145,52],[162,57],[178,62],[195,67],[210,72],[150,65],[220,86],[232,88],[170,60]
];
const ccd_91001302001 = [
  [163,38],[180,42],[135,60],[230,90],[238,84],[245,88],[130,57],[200,65],[215,70],[152,48],[175,48],
  [190,55],[140,68],[165,72],[210,86],[135,50],[128,62],[240,80],[225,75]
];
const ccdCore_91001304002 = [
  [265,14],[280,13],[270,11.5],[285,11],[275,10],[260,12],[290,14.5],[272,9.5]
];
const ccd_91001304002 = [
  [255,12],[300,11],[262,9],[285,8.8],[295,12.5],[250,15],[240,10],[305,15],[268,16.5],[280,9.2]
];
const ccdCore_91002306002 = [
  [280,32],[290,30],[275,28],[295,27],[285,25],[270,24],[300,23],[280,22],[290,20],[272,19],[300,18],
  [285,17],[275,15.5],[295,15],[283,13.5],[270,12.5],[292,12],[280,11],[288,10]
];
const ccd_91002306002 = [
  [300,35],[305,33],[268,34],[260,30],[310,28],[255,26],[315,24],[250,22],[320,21],[330,26],[420,23],[288,56],
  [288,38],[203,18],[169,27.5],[215,8.1],[220,5.1],[160,9],[262,16],[245,14],[300,9],[310,13],[265,10],
  [250,19.5],[190,13],[235,29]
];
const ccdCore_80902342002 = [
  [46.5,4.2],[53.5,4.0],[48,3.6],[54,3.4],[46,3.1],[52.5,3.0],[48,2.7],[54,2.6],[46,2.3],[52.5,2.25],[48,2.0],
  [54,1.95],[46,1.75],[52.5,1.7],[48,1.5],[54,1.45],[46,1.3],[52.5,1.25],[48,1.1],[54,1.08],[47,0.95],
  [52.5,0.92],[49,0.8],[53,0.75],[50,0.67],[50,0.6]
];
const ccd_80902342002 = [
  [42,4.4],[58,4.5],[62,4.6],[44,3.8],[60,3.5],[41,3.2],[62,2.9],[64,2.6],[40,2.5],[43,2.0],[60,2.2],[63,1.9],
  [42,1.6],[60,1.5],[43,1.2],[59,1.0],[62,1.3],[44,0.85],[58,0.75],[46,0.65],[56,0.62],[52,0.58],[48,0.46],
  [51,0.44],[53,0.42],[49,0.41],[55,0.64],[45,1.45],[57,3.8],[50,4.6],[41,2.8],[42,1.0],[59,2.7],[58,1.2]
];

const hidPoints = [hid_80001013010, hid_80102011004, hid_80102011008, hid_80102011010, hid_80702316005,
                   hid_91001302001, hid_91001304002, hid_91002306002, hid_80902342002];
const hidCores = [hidCore_80001013010, hidCore_80102011004, hidCore_80102011008, hidCore_80102011010, hidCore_80702316005,
                  hidCore_91001302001, hidCore_91001304002, hidCore_91002306002, hidCore_80902342002];
const ccdPoints = [ccd_80001013010, ccd_80102011004, ccd_80102011008, ccd_80102011010, ccd_80702316005,
                   ccd_91001302001, ccd_91001304002, ccd_91002306002, ccd_80902342002];
const ccdCores = [ccdCore_80001013010, ccdCore_80102011004, ccdCore_80102011008, ccdCore_80102011010, ccdCore_80702316005,
                  ccdCore_91001302001, ccdCore_91001304002, ccdCore_91002306002, ccdCore_80902342002];
const hidCoreRadius = [30, 30, 30, 30, 9, 18, 10, 10, 10];
const ccdCoreRadius = [26, 26, 26, 26, 11, 15, 12, 13, 13];

// ---------- helpers ----------
function rgba(hex, a) {
  const n = parseInt(hex.slice(1), 16);
  return 'rgba(' + (n >> 16) + ',' + ((n >> 8) & 255) + ',' + (n & 255) + ',' + a + ')';
}
const xy = arr => arr.map(p => ({x: p[0], y: p[1]}));
const isDecade = v => Math.abs(Math.log10(v) - Math.round(Math.log10(v))) < 1e-6;
const sup = {'-': '⁻', '0': '⁰', '1': '¹', '2': '²', '3': '³'};
const decadeLabel = v => isDecade(v) ? '10' + String(Math.round(Math.log10(v))).split('').map(c => sup[c]).join('') : '';

const FONT = '"DejaVu Sans", sans-serif';
const tickFont = {family: FONT, size: 28};
const labelFont = {family: FONT, size: 39, lineHeight: 1.12};

Chart.defaults.font.family = FONT;
Chart.defaults.color = '#000';

function scatterSets(points, cores, coreR) {
  const sets = [];
  obsIds.forEach((id, i) => {
    sets.push({type: 'scatter', label: id + ' core', data: xy(cores[i]),
               backgroundColor: coreR[i] > 20 ? obsColors[i] : rgba(obsColors[i], 0.9),
               borderWidth: 0, pointRadius: coreR[i], pointHoverRadius: coreR[i], clip: 0});
    sets.push({type: 'scatter', label: id, data: xy(points[i]), backgroundColor: rgba(obsColors[i], 0.8),
               borderWidth: 0, pointRadius: 6.3, pointHoverRadius: 6.3, clip: 0});
  });
  // later observations on top, like the original plotting order
  sets.forEach((s, k) => { s.order = sets.length - k + 10; });
  return sets;
}

function logAxis(tickVals, min, max, gridCol, isX, size, title, titlePad) {
  const ax = {
    type: 'logarithmic', min: min, max: max,
    afterBuildTicks: s => { s.ticks = tickVals.map(v => ({value: v})); },
    ticks: {autoSkip: false, maxRotation: 0, font: tickFont, color: '#000', padding: isX ? 6 : 7,
            callback: v => decadeLabel(v)},
    grid: {color: c => (c.tick && isDecade(c.tick.value)) ? gridCol : 'rgba(0,0,0,0)', lineWidth: 2,
           tickColor: c => (c.tick && isDecade(c.tick.value)) ? '#000' : 'rgba(0,0,0,0)', tickLength: 10, tickWidth: 2},
    border: {color: '#000', width: 2.5},
    title: {display: true, text: title, font: labelFont, color: '#000', padding: titlePad}
  };
  if (isX) ax.afterFit = s => { s.height = size; };
  else ax.afterFit = s => { s.width = size; };
  return ax;
}

// frame + minor ticks
const framePlugin = {
  id: 'frame',
  afterDraw(chart) {
    const {ctx, chartArea: a} = chart;
    ctx.save();
    ctx.strokeStyle = '#000';
    ctx.lineWidth = 1.7;
    ['x', 'y'].forEach(id => {
      const s = chart.scales[id];
      if (s.type !== 'logarithmic') return;
      s.ticks.forEach(t => {
        if (isDecade(t.value)) return;
        const p = s.getPixelForValue(t.value);
        ctx.beginPath();
        if (id === 'x') { ctx.moveTo(p, a.bottom); ctx.lineTo(p, a.bottom + 6); }
        else { ctx.moveTo(a.left, p); ctx.lineTo(a.left - 6, p); }
        ctx.stroke();
      });
    });
    ctx.lineWidth = 2.5;
    ctx.strokeRect(a.left, a.top, a.right - a.left, a.bottom - a.top);
    ctx.restore();
  }
};

// state bands drawn over the points, as in the original
const bandPlugin = {
  id: 'bands',
  afterDatasetsDraw(chart) {
    const {ctx, chartArea: a, scales: {y}} = chart;
    ctx.save();
    ctx.beginPath();
    ctx.rect(a.left, a.top, a.right - a.left, a.bottom - a.top);
    ctx.clip();
    stateNames.forEach((n, i) => {
      const top = y.getPixelForValue(stateHi[i]);
      const bot = y.getPixelForValue(stateLo[i]);
      ctx.fillStyle = rgba(stateColors[i], 0.2);
      ctx.fillRect(a.left - 5, top, a.right - a.left + 10, bot - top);
      ctx.strokeStyle = rgba(stateColors[i], 0.22);
      ctx.lineWidth = 3;
      ctx.strokeRect(a.left - 5, top, a.right - a.left + 10, bot - top);
    });
    ctx.restore();
  }
};

const ratioLabelPlugin = {
  id: 'ratioLabels',
  afterDatasetsDraw(chart) {
    const {ctx, chartArea: a, scales: {x, y}} = chart;
    ctx.save();
    ctx.beginPath();
    ctx.rect(a.left, a.top, a.right - a.left, a.bottom - a.top);
    ctx.clip();
    ratioValues.forEach((r, i) => {
      const x1 = x.getPixelForValue(1), y1 = y.getPixelForValue(r);
      const x2 = x.getPixelForValue(10), y2 = y.getPixelForValue(10 * r);
      const ang = Math.atan2(y2 - y1, x2 - x1);
      ctx.save();
      ctx.translate(x.getPixelForValue(ratioLabelX[i]), y.getPixelForValue(ratioLabelY[i]));
      ctx.rotate(ang);
      ctx.font = 'bold 27px ' + FONT;
      ctx.fillStyle = rgba(ratioColors[i], 0.8);
      ctx.textAlign = 'center';
      ctx.textBaseline = 'middle';
      ctx.fillText(ratioLabels[i], 0, 0);
      ctx.restore();
    });
    ctx.restore();
  }
};

// ---------- (a) Hardness-intensity diagram ----------
new Chart(document.getElementById('hid'), {
  type: 'scatter',
  data: {datasets: scatterSets(hidPoints, hidCores, hidCoreRadius)},
  options: {
    responsive: false, animation: false, events: [],
    layout: {padding: {top: 28, right: 40, left: 0, bottom: 0}},
    plugins: {legend: {display: false}, tooltip: {enabled: false}},
    scales: {
      x: logAxis(hidXTicks, 0.1, 500, 'rgba(0,0,0,0.16)', true, 196,
                 ['Total Count Rate (3-79 keV)', '[counts s⁻¹]'], {top: 4, bottom: 19}),
      y: {
        type: 'linear', min: 0.15, max: 1.1,
        afterBuildTicks: s => { s.ticks = hidYTicks.map(v => ({value: v})); },
        afterFit: s => { s.width = 211; },
        ticks: {font: tickFont, color: '#000', padding: 7, callback: v => v.toFixed(1)},
        grid: {color: 'rgba(0,0,0,0.16)', lineWidth: 2, tickColor: '#000', tickLength: 10, tickWidth: 2},
        border: {color: '#000', width: 2.5},
        title: {display: true, text: ['Hardness Ratio', '(10-79 keV / 3-10 keV)'], font: labelFont, color: '#000',
                padding: {top: 26, bottom: 0}}
      }
    }
  },
  plugins: [bandPlugin, framePlugin]
});

// ---------- (b) Colour-colour diagram ----------
const ccdSets = scatterSets(ccdPoints, ccdCores, ccdCoreRadius);
ratioValues.forEach((r, i) => {
  ccdSets.push({
    type: 'line', label: ratioLabels[i],
    data: ratioLineX.map(v => ({x: v, y: v * r})),
    borderColor: rgba(ratioColors[i], 0.6), borderWidth: 3, borderDash: [14, 7],
    pointRadius: 0, fill: false, order: -1 - i
  });
});
new Chart(document.getElementById('ccd'), {
  type: 'scatter',
  data: {datasets: ccdSets},
  options: {
    responsive: false, animation: false, events: [],
    layout: {padding: {top: 28, right: 58, left: 0, bottom: 0}},
    plugins: {legend: {display: false}, tooltip: {enabled: false}},
    scales: {
      x: logAxis(ccdXTicks, 0.05, 500, 'rgba(0,0,0,0.14)', true, 196,
                 ['Soft Band Count Rate (3-10 keV)', '[counts s⁻¹]'], {top: 4, bottom: 19}),
      y: logAxis(ccdYTicks, 0.05, 100, 'rgba(0,0,0,0.14)', false, 335,
                 ['Hard Band Count Rate (10-79 keV)', '[counts s⁻¹]'], {top: 115, bottom: 0})
    }
  },
  plugins: [ratioLabelPlugin, framePlugin]
});

// ---------- legend ----------
const leg = document.getElementById('legend');
legendTitle.forEach(t => {
  const d = document.createElement('div');
  d.className = 'ltitle';
  d.textContent = t;
  leg.appendChild(d);
});
const spacer = document.createElement('div');
spacer.style.height = '5px';
leg.appendChild(spacer);
stateNames.forEach((n, i) => {
  const row = document.createElement('div');
  row.className = 'lrow';
  row.innerHTML = '<div class="lhandle"><div class="lpatch" style="background:' + rgba(stateColors[i], 0.2) +
                  '"></div></div><span>' + n + '</span>';
  leg.appendChild(row);
});
obsIds.forEach((id, i) => {
  const row = document.createElement('div');
  row.className = 'lrow';
  row.innerHTML = '<div class="lhandle"><div class="lline"></div><div class="ldot" style="background:' +
                  rgba(obsColors[i], 0.9) + '"></div></div><span>' + id + '</span>';
  leg.appendChild(row);
});
</script>
</body>
</html>
